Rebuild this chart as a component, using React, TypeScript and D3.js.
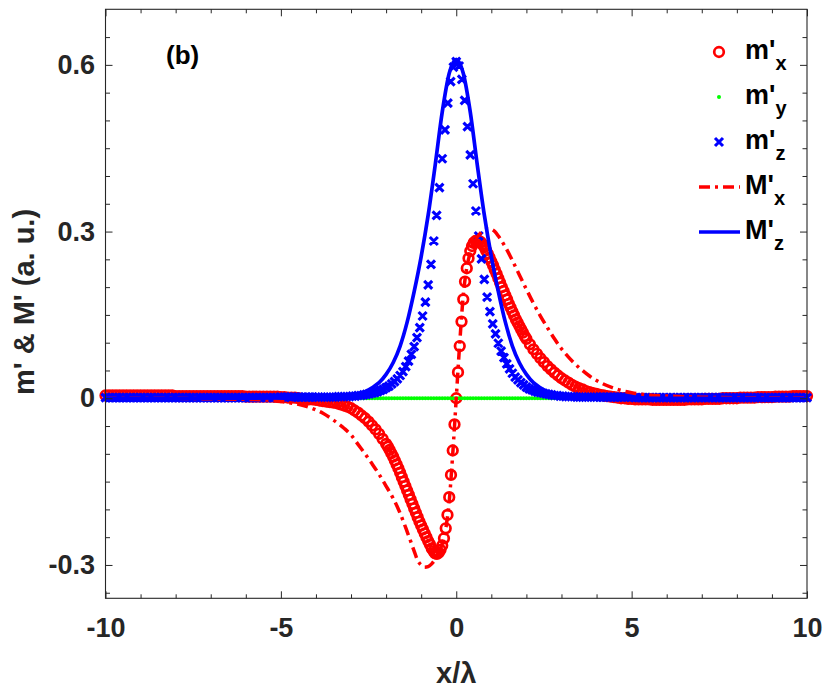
import * as d3 from "d3";
import React, { useEffect, useRef } from "react";

// sample positions (x / lambda)
const tailLeftX = [
  -10, -9.9, -9.8, -9.7, -9.6, -9.5, -9.4, -9.3, -9.2, -9.1,
  -9, -8.9, -8.8, -8.7, -8.6, -8.5, -8.4, -8.3, -8.2, -8.1,
  -8, -7.9, -7.8, -7.7, -7.6, -7.5, -7.4, -7.3, -7.2, -7.1,
  -7, -6.9, -6.8, -6.7, -6.6, -6.5, -6.4, -6.3, -6.2, -6.1,
  -6, -5.9, -5.8, -5.7, -5.6, -5.5, -5.4, -5.3, -5.2, -5.1,
  -5, -4.9, -4.8, -4.7, -4.6, -4.5, -4.4, -4.3, -4.2, -4.1,
];
const tailRightX = [
  4.1, 4.2, 4.3, 4.4, 4.5, 4.6, 4.7, 4.8, 4.9, 5,
  5.1, 5.2, 5.3, 5.4, 5.5, 5.6, 5.7, 5.8, 5.9, 6,
  6.1, 6.2, 6.3, 6.4, 6.5, 6.6, 6.7, 6.8, 6.9, 7,
  7.1, 7.2, 7.3, 7.4, 7.5, 7.6, 7.7, 7.8, 7.9, 8,
  8.1, 8.2, 8.3, 8.4, 8.5, 8.6, 8.7, 8.8, 8.9, 9,
  9.1, 9.2, 9.3, 9.4, 9.5, 9.6, 9.7, 9.8, 9.9, 10,
];
const mxNearLeftX = [
  -4, -3.9, -3.8, -3.7, -3.6, -3.5, -3.4, -3.3, -3.2, -3.1,
  -3, -2.9, -2.8, -2.7, -2.6, -2.5, -2.4, -2.3, -2.2, -2.1,
];
const mxCoreX = [
  -2, -1.95, -1.9, -1.85, -1.8, -1.75, -1.7, -1.65, -1.6, -1.55,
  -1.5, -1.45, -1.4, -1.35, -1.3, -1.25, -1.2, -1.15, -1.1, -1.05,
  -1, -0.95, -0.9, -0.85, -0.8, -0.75, -0.7, -0.65, -0.6, -0.55,
  -0.5, -0.45, -0.4, -0.35, -0.3, -0.25, -0.2, -0.15, -0.1, -0.05,
  0,
  0.05, 0.1, 0.15, 0.2, 0.25, 0.3, 0.35, 0.4, 0.45, 0.5,
  0.55, 0.6, 0.65, 0.7, 0.75, 0.8, 0.85, 0.9, 0.95, 1,
  1.05, 1.1, 1.15, 1.2, 1.25, 1.3, 1.35, 1.4, 1.45, 1.5,
  1.55, 1.6, 1.65, 1.7, 1.75, 1.8, 1.85, 1.9, 1.95, 2,
];
const mxNearRightX = [
  2.1, 2.2, 2.3, 2.4, 2.5, 2.6, 2.7, 2.8, 2.9, 3,
  3.1, 3.2, 3.3, 3.4, 3.5, 3.6, 3.7, 3.8, 3.9, 4,
];
const mzCoreX = [
  -4, -3.92, -3.84, -3.76, -3.68, -3.6, -3.52, -3.44, -3.36, -3.28,
  -3.2, -3.12, -3.04, -2.96, -2.88, -2.8, -2.72, -2.64, -2.56, -2.48,
  -2.4, -2.32, -2.24, -2.16, -2.08, -2, -1.92, -1.84, -1.76, -1.68,
  -1.6, -1.52, -1.44, -1.36, -1.28, -1.2, -1.12, -1.04, -0.96, -0.88,
  -0.8, -0.72, -0.64, -0.56, -0.48, -0.4, -0.32, -0.24, -0.16, -0.08,
  0,
  0.08, 0.16, 0.24, 0.32, 0.4, 0.48, 0.56, 0.64, 0.72, 0.8,
  0.88, 0.96, 1.04, 1.12, 1.2, 1.28, 1.36, 1.44, 1.52, 1.6,
  1.68, 1.76, 1.84, 1.92, 2, 2.08, 2.16, 2.24, 2.32, 2.4,
  2.48, 2.56, 2.64, 2.72, 2.8, 2.88, 2.96, 3.04, 3.12, 3.2,
  3.28, 3.36, 3.44, 3.52, 3.6, 3.68, 3.76, 3.84, 3.92, 4,
];

const mxX = [...tailLeftX, ...mxNearLeftX, ...mxCoreX, ...mxNearRightX, ...tailRightX];
const mzX = [...tailLeftX, ...mzCoreX, ...tailRightX];

// m'x (circles)
const mxY = [
  0.005, 0.005, 0.005, 0.005, 0.005, 0.005, 0.005, 0.005, 0.005, 0.005,
  0.005, 0.005, 0.005, 0.005, 0.005, 0.005, 0.005, 0.005, 0.005, 0.005,
  0.004, 0.004, 0.004, 0.004, 0.004, 0.004, 0.004, 0.004, 0.004, 0.004,
  0.004, 0.004, 0.004, 0.004, 0.004, 0.004, 0.004, 0.004, 0.004, 0.004,
  0.003, 0.003, 0.003, 0.003, 0.003, 0.003, 0.003, 0.003, 0.003, 0.003,
  0.002, 0.002, 0.001, 0.001, 0.001, 0.0, -0.001, -0.001, -0.002, -0.002,
  -0.003, -0.004, -0.005, -0.006, -0.007, -0.008, -0.009, -0.011, -0.013, -0.015,
  -0.018, -0.022, -0.026, -0.031, -0.036, -0.042, -0.049, -0.056, -0.064, -0.073,
  -0.082, -0.087, -0.093, -0.099, -0.105, -0.112, -0.119, -0.126, -0.134, -0.142,
  -0.150, -0.158, -0.166, -0.174, -0.182, -0.190, -0.198, -0.206, -0.214, -0.222,
  -0.229, -0.236, -0.243, -0.250, -0.257, -0.263, -0.270, -0.275, -0.279, -0.280,
  -0.278, -0.273, -0.265, -0.252, -0.234, -0.210, -0.178, -0.138, -0.094, -0.047,
  0,
  0.047, 0.094, 0.138, 0.178, 0.210, 0.234, 0.252, 0.265, 0.274, 0.280,
  0.283, 0.284, 0.283, 0.281, 0.277, 0.272, 0.266, 0.260, 0.253, 0.246,
  0.239, 0.231, 0.224, 0.216, 0.208, 0.200, 0.193, 0.185, 0.178, 0.170,
  0.163, 0.156, 0.149, 0.142, 0.136, 0.130, 0.124, 0.118, 0.112, 0.107,
  0.097, 0.088, 0.080, 0.072, 0.065, 0.058, 0.052, 0.046, 0.041, 0.036,
  0.032, 0.028, 0.024, 0.021, 0.018, 0.016, 0.013, 0.011, 0.009, 0.008,
  0.006, 0.005, 0.004, 0.003, 0.002, 0.001, 0.0, 0.0, -0.001, -0.001,
  -0.002, -0.002, -0.002, -0.002, -0.002, -0.003, -0.003, -0.003, -0.003, -0.003,
  -0.003, -0.003, -0.003, -0.003, -0.003, -0.002, -0.002, -0.002, -0.002, -0.002,
  -0.001, -0.001, -0.001, -0.001, -0.001, 0.0, 0.0, 0.0, 0.0, 0.0,
  0.001, 0.001, 0.001, 0.001, 0.001, 0.002, 0.002, 0.002, 0.002, 0.002,
  0.003, 0.003, 0.003, 0.003, 0.003, 0.004, 0.004, 0.004, 0.004, 0.004,
];

// m'y (dots)
const myY = [
  0, 0, 0, 0, 0, 0, 0, 0, 0, 0, 0, 0, 0, 0, 0, 0, 0, 0, 0, 0,
  0, 0, 0, 0, 0, 0, 0, 0, 0, 0, 0, 0, 0, 0, 0, 0, 0, 0, 0, 0,
  0, 0, 0, 0, 0, 0, 0, 0, 0, 0, 0, 0, 0, 0, 0, 0, 0, 0, 0, 0,
  0, 0, 0, 0, 0, 0, 0, 0, 0, 0, 0, 0, 0, 0, 0, 0, 0, 0, 0, 0,
  0, 0, 0, 0, 0, 0, 0, 0, 0, 0, 0, 0, 0, 0, 0, 0, 0, 0, 0, 0,
  0, 0, 0, 0, 0, 0, 0, 0, 0, 0, 0, 0, 0, 0, 0, 0, 0, 0, 0, 0,
  0, 0, 0, 0, 0, 0, 0, 0, 0, 0, 0, 0, 0, 0, 0, 0, 0, 0, 0, 0,
  0, 0, 0, 0, 0, 0, 0, 0, 0, 0, 0, 0, 0, 0, 0, 0, 0, 0, 0, 0,
  0, 0, 0, 0, 0, 0, 0, 0, 0, 0, 0, 0, 0, 0, 0, 0, 0, 0, 0, 0,
  0, 0, 0, 0, 0, 0, 0, 0, 0, 0, 0, 0, 0, 0, 0, 0, 0, 0, 0, 0,
  0, 0, 0, 0, 0, 0, 0, 0, 0, 0, 0, 0, 0, 0, 0, 0, 0, 0, 0, 0,
  0,
];

// m'z (crosses)
const mzY = [
  0.001, 0.001, 0.001, 0.001, 0.001, 0.001, 0.001, 0.001, 0.001, 0.001,
  0.001, 0.001, 0.001, 0.001, 0.001, 0.001, 0.001, 0.001, 0.001, 0.001,
  0.001, 0.001, 0.001, 0.001, 0.001, 0.001, 0.001, 0.001, 0.001, 0.001,
  0.001, 0.001, 0.001, 0.001, 0.001, 0.001, 0.001, 0.001, 0.001, 0.001,
  0.001, 0.001, 0.001, 0.001, 0.001, 0.001, 0.001, 0.001, 0.001, 0.001,
  0.002, 0.002, 0.002, 0.002, 0.002, 0.002, 0.002, 0.002, 0.002, 0.002,
  0.002, 0.002, 0.002, 0.002, 0.002, 0.002, 0.002, 0.002, 0.003, 0.003,
  0.003, 0.003, 0.003, 0.004, 0.004, 0.005, 0.005, 0.006, 0.007, 0.008,
  0.009, 0.010, 0.012, 0.014, 0.016, 0.019, 0.022, 0.026, 0.030, 0.035,
  0.041, 0.048, 0.057, 0.067, 0.079, 0.093, 0.109, 0.127, 0.148, 0.173,
  0.204, 0.241, 0.283, 0.329, 0.379, 0.431, 0.483, 0.531, 0.570, 0.596,
  0.606,
  0.598, 0.574, 0.536, 0.489, 0.438, 0.386, 0.337, 0.292, 0.251, 0.214,
  0.182, 0.156, 0.134, 0.116, 0.099, 0.085, 0.073, 0.062, 0.053, 0.045,
  0.038, 0.033, 0.028, 0.024, 0.020, 0.017, 0.015, 0.013, 0.011, 0.010,
  0.009, 0.008, 0.007, 0.006, 0.005, 0.005, 0.004, 0.004, 0.003, 0.003,
  0.003, 0.003, 0.002, 0.002, 0.002, 0.002, 0.002, 0.002, 0.002, 0.002,
  0.002, 0.002, 0.002, 0.002, 0.002, 0.002, 0.002, 0.002, 0.002, 0.002,
  0.001, 0.001, 0.001, 0.001, 0.001, 0.001, 0.001, 0.001, 0.001, 0.001,
  0.001, 0.001, 0.001, 0.001, 0.001, 0.001, 0.001, 0.001, 0.001, 0.001,
  0.001, 0.001, 0.001, 0.001, 0.001, 0.001, 0.001, 0.001, 0.001, 0.001,
  0.001, 0.001, 0.001, 0.001, 0.001, 0.001, 0.001, 0.001, 0.001, 0.001,
  0.001, 0.001, 0.001, 0.001, 0.001, 0.001, 0.001, 0.001, 0.001, 0.001,
];

// M'x (dash-dot line)
const MxLineX = [
  -10, -8, -7, -6, -5.5, -5, -4.5, -4, -3.8, -3.6, -3.4, -3.2, -3, -2.8, -2.6, -2.4, -2.2, -2,
  -1.8, -1.6, -1.4, -1.2, -1.1, -1, -0.9, -0.8, -0.7, -0.6, -0.5, -0.4, -0.3, -0.2, -0.1, 0,
  0.1, 0.2, 0.3, 0.4, 0.5, 0.6, 0.7, 0.8, 0.9, 1, 1.1, 1.2, 1.4, 1.6, 1.8, 2,
  2.2, 2.4, 2.6, 2.8, 3, 3.2, 3.4, 3.6, 3.8, 4, 4.5, 5, 5.5, 6, 7, 8, 10,
];
const MxLineY = [
  0, 0, -0.001, -0.002, -0.003, -0.006, -0.011, -0.021, -0.027, -0.035, -0.044, -0.054, -0.066, -0.083, -0.1, -0.118, -0.137, -0.158,
  -0.18, -0.207, -0.24, -0.275, -0.292, -0.3, -0.304, -0.303, -0.298, -0.29, -0.279, -0.262, -0.235, -0.185, -0.1, 0,
  0.1, 0.185, 0.235, 0.262, 0.279, 0.29, 0.298, 0.303, 0.305, 0.304, 0.3, 0.292, 0.272, 0.248, 0.222, 0.196,
  0.171, 0.148, 0.127, 0.107, 0.089, 0.074, 0.061, 0.05, 0.04, 0.032, 0.018, 0.01, 0.006, 0.004, 0.002, 0.001, 0.001,
];

// M'z (solid line)
const MzLineX = [
  -10, -8, -6, -5, -4, -3.6, -3.2, -3, -2.8, -2.6, -2.4, -2.2, -2, -1.8, -1.6, -1.4, -1.2, -1, -0.8, -0.6, -0.4, -0.2, 0,
  0.2, 0.4, 0.6, 0.8, 1, 1.2, 1.4, 1.6, 1.8, 2, 2.2, 2.4, 2.6, 2.8, 3, 3.2, 3.6, 4, 5, 6, 8, 10,
];
const MzLineY = [
  0, 0, 0, 0.0005, 0.001, 0.0015, 0.003, 0.005, 0.008, 0.012, 0.019, 0.028, 0.043, 0.064, 0.094, 0.137, 0.192, 0.255, 0.33, 0.42, 0.515, 0.585, 0.61,
  0.585, 0.515, 0.42, 0.33, 0.255, 0.192, 0.137, 0.094, 0.064, 0.043, 0.028, 0.019, 0.012, 0.008, 0.005, 0.003, 0.0015, 0.001, 0.0005, 0, 0, 0,
];

// ticks
const xMajorTicks = [-10, -5, 0, 5, 10];
const xMinorTicks = [-9, -8, -7, -6, -4, -3, -2, -1, 1, 2, 3, 4, 6, 7, 8, 9];
const yMajorTicks = [-0.3, 0, 0.3, 0.6];
const yMinorTicks = [-0.35, -0.25, -0.2, -0.15, -0.1, -0.05, 0.05, 0.1, 0.15, 0.2, 0.25, 0.35, 0.4, 0.45, 0.5, 0.55, 0.65];

const legendItems = [
  { base: "m'", sub: "x", kind: "circle" },
  { base: "m'", sub: "y", kind: "dot" },
  { base: "m'", sub: "z", kind: "cross" },
  { base: "M'", sub: "x", kind: "dashdot" },
  { base: "M'", sub: "z", kind: "solid" },
];

const RED = "#ff0000";
const GREEN = "#00ff00";
const BLUE = "#0000ff";
const AXIS = "#262626";
const FONT = "'Liberation Sans', Arial, Helvetica, sans-serif";

// marker look
const CIRCLE_R = 4.8;
const CIRCLE_W = 2.7;
const CROSS_S = 4;
const CROSS_W = 3.1;
const DOT_R = 2;
const DASHDOT = "11,5,3,5";

const crossPath = (cx: number, cy: number, s: number) =>
  `M${cx - s},${cy - s}L${cx + s},${cy + s}M${cx - s},${cy + s}L${cx + s},${cy - s}`;

const App: React.FC = () => {
  const ref = useRef<SVGSVGElement | null>(null);

  useEffect(() => {
    if (!ref.current) return;
    const svg = d3.select(ref.current);
    svg.selectAll("*").remove();

    const width = 830;
    const height = 689;
    const plot = { left: 105.5, right: 807, top: 9.3, bottom: 598.3 };

    svg.append("rect").attr("width", width).attr("height", height).attr("fill", "#fff");

    const x = d3.scaleLinear().domain([-10, 10]).range([plot.left, plot.right]);
    const y = d3.scaleLinear().domain([-0.36, 0.7]).range([plot.bottom, plot.top]);

    // m'x circles
    svg.append("g")
      .selectAll("circle")
      .data(d3.zip(mxX, mxY))
      .enter()
      .append("circle")
      .attr("cx", (d) => x(d[0]))
      .attr("cy", (d) => y(d[1]))
      .attr("r", CIRCLE_R)
      .attr("fill", "none")
      .attr("stroke", RED)
      .attr("stroke-width", CIRCLE_W);

    // m'y dots
    svg.append("g")
      .selectAll("circle")
      .data(d3.zip(mzX, myY))
      .enter()
      .append("circle")
      .attr("cx", (d) => x(d[0]))
      .attr("cy", (d) => y(d[1]))
      .attr("r", DOT_R)
      .attr("fill", GREEN);

    // m'z crosses
    svg.append("path")
      .attr("d", d3.zip(mzX, mzY).map((d) => crossPath(x(d[0]), y(d[1]), CROSS_S)).join(""))
      .attr("fill", "none")
      .attr("stroke", BLUE)
      .attr("stroke-width", CROSS_W);

    const line = d3
      .line<[number, number]>()
      .x((d) => x(d[0]))
      .y((d) => y(d[1]))
      .curve(d3.curveMonotoneX);

    // M'x dash-dot
    svg.append("path")
      .attr("d", line(d3.zip(MxLineX, MxLineY) as [number, number][]))
      .attr("fill", "none")
      .attr("stroke", RED)
      .attr("stroke-width", 3.5)
      .attr("stroke-dasharray", DASHDOT);

    // M'z solid
    svg.append("path")
      .attr("d", line(d3.zip(MzLineX, MzLineY) as [number, number][]))
      .attr("fill", "none")
      .attr("stroke", BLUE)
      .attr("stroke-width", 3.7);

    // axes box
    svg.append("rect")
      .attr("x", plot.left)
      .attr("y", plot.top)
      .attr("width", plot.right - plot.left)
      .attr("height", plot.bottom - plot.top)
      .attr("fill", "none")
      .attr("stroke", AXIS)
      .attr("stroke-width", 1.1);

    const fmt = (d: d3.NumberValue) => String(d);
    const styleAxis = (g: d3.Selection<SVGGElement, unknown, null, undefined>) => {
      g.select(".domain").remove();
      g.selectAll(".tick line").attr("stroke", AXIS).attr("stroke-width", 1);
      g.selectAll(".tick text")
        .attr("fill", AXIS)
        .style("font-family", FONT)
        .style("font-weight", "bold")
        .style("font-size", "27px");
    };

    svg.append("g")
      .attr("transform", `translate(0,${plot.bottom})`)
      .call(d3.axisBottom(x).tickValues(xMajorTicks).tickSize(-7).tickPadding(19.5).tickFormat(fmt))
      .call(styleAxis);
    svg.append("g")
      .attr("transform", `translate(0,${plot.bottom})`)
      .call(d3.axisBottom(x).tickValues(xMinorTicks).tickSize(-4).tickFormat(() => ""))
      .call(styleAxis);
    svg.append("g")
      .attr("transform", `translate(0,${plot.top})`)
      .call(d3.axisTop(x).tickValues(xMajorTicks).tickSize(-7).tickFormat(() => ""))
      .call(styleAxis);
    svg.append("g")
      .attr("transform", `translate(0,${plot.top})`)
      .call(d3.axisTop(x).tickValues(xMinorTicks).tickSize(-4).tickFormat(() => ""))
      .call(styleAxis);
    svg.append("g")
      .attr("transform", `translate(${plot.left},0)`)
      .call(d3.axisLeft(y).tickValues(yMajorTicks).tickSize(-7).tickPadding(10.5).tickFormat(fmt))
      .call(styleAxis);
    svg.append("g")
      .attr("transform", `translate(${plot.left},0)`)
      .call(d3.axisLeft(y).tickValues(yMinorTicks).tickSize(-4.5).tickFormat(() => ""))
      .call(styleAxis);
    svg.append("g")
      .attr("transform", `translate(${plot.right},0)`)
      .call(d3.axisRight(y).tickValues(yMajorTicks).tickSize(-7).tickFormat(() => ""))
      .call(styleAxis);
    svg.append("g")
      .attr("transform", `translate(${plot.right},0)`)
      .call(d3.axisRight(y).tickValues(yMinorTicks).tickSize(-4.5).tickFormat(() => ""))
      .call(styleAxis);

    // axis labels
    svg.append("text")
      .attr("x", (plot.left + plot.right) / 2)
      .attr("y", 683)
      .attr("text-anchor", "middle")
      .attr("fill", AXIS)
      .style("font-family", FONT)
      .style("font-weight", "bold")
      .style("font-size", "29px")
      .text("x/λ");

    svg.append("text")
      .attr("transform", "translate(34,302) rotate(-90)")
      .attr("text-anchor", "middle")
      .attr("fill", AXIS)
      .style("font-family", FONT)
      .style("font-weight", "bold")
      .style("font-size", "29px")
      .text("m' & M' (a. u.)");

    // panel tag
    svg.append("text")
      .attr("x", 166)
      .attr("y", 64)
      .attr("fill", "#000")
      .style("font-family", FONT)
      .style("font-weight", "bold")
      .style("font-size", "26px")
      .text("(b)");

    // legend
    const lg = svg.append("g");
    legendItems.forEach((item, i) => {
      const cy = 52 + i * 45;
      if (item.kind === "circle") {
        lg.append("circle").attr("cx", 719).attr("cy", cy).attr("r", CIRCLE_R)
          .attr("fill", "none").attr("stroke", RED).attr("stroke-width", CIRCLE_W);
      } else if (item.kind === "dot") {
        lg.append("circle").attr("cx", 719).attr("cy", cy).attr("r", DOT_R).attr("fill", GREEN);
      } else if (item.kind === "cross") {
        lg.append("path").attr("d", crossPath(719, cy, CROSS_S))
          .attr("stroke", BLUE).attr("stroke-width", CROSS_W);
      } else {
        lg.append("line").attr("x1", 699).attr("x2", 740).attr("y1", cy).attr("y2", cy)
          .attr("stroke", item.kind === "dashdot" ? RED : BLUE)
          .attr("stroke-width", item.kind === "dashdot" ? 3.5 : 3.7)
          .attr("stroke-dasharray", item.kind === "dashdot" ? DASHDOT : null);
      }
      const t = lg.append("text")
        .attr("x", 745)
        .attr("y", cy + 7)
        .attr("fill", "#000")
        .style("font-family", FONT)
        .style("font-weight", "bold")
        .style("font-size", "27px");
      t.append("tspan").text(item.base);
      t.append("tspan").attr("dy", 11).style("font-size", "20px").text(item.sub);
    });
  }, []);

  return (
    <svg
      ref={ref}
      width={830}
      height={689}
      style={{ position: "absolute", left: 0, top: 0 }}
    />
  );
};

export default App;
